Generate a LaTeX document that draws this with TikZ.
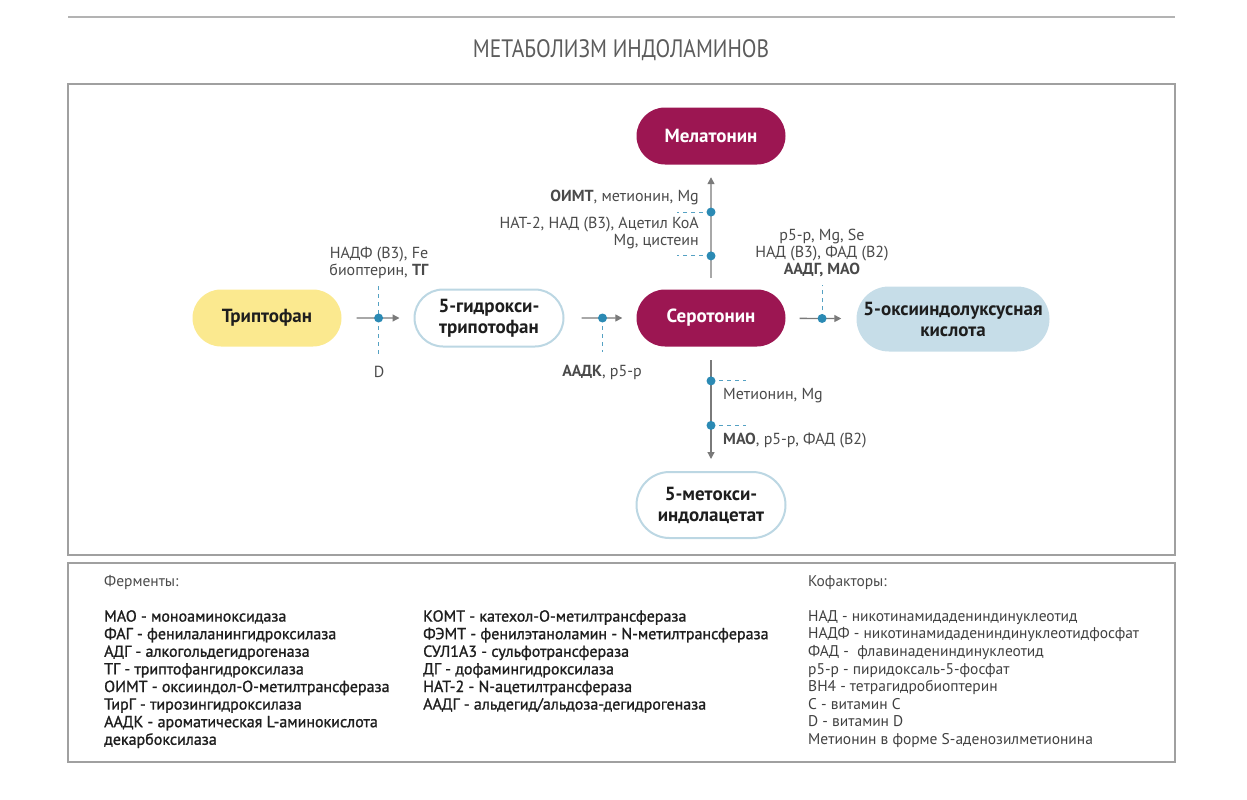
\documentclass[tikz,border=0pt]{standalone}
\usepackage{fontspec}
\setmainfont{PT Sans}
\newfontfamily\titlefont[FakeStretch=0.85]{PT Sans}
\newfontfamily\medfont[FakeBold=1.2]{PT Sans}
\usetikzlibrary{positioning,shapes.misc,arrows.meta}

\definecolor{trpyellow}{HTML}{FBE98F}
\definecolor{serwine}{HTML}{9C1652}
\definecolor{acidblue}{HTML}{C6DDE8}
\definecolor{pillrim}{HTML}{BCD7E3}
\definecolor{dotblue}{HTML}{2B8AB4}
\definecolor{flowgray}{HTML}{7A7A7A}
\definecolor{labelgray}{HTML}{4A4A4A}
\definecolor{framegray}{HTML}{A0A0A0}
\definecolor{inkdark}{HTML}{1E1E1E}

\begin{document}
\begin{tikzpicture}[
  x=1pt,y=-1pt,
  pill/.style={rounded rectangle,minimum width=153pt,minimum height=57pt,inner sep=2pt,align=center,
    font=\fontsize{19}{21}\selectfont\bfseries,text=inkdark},
  hollow/.style={pill,draw=pillrim,line width=2pt,fill=white},
  flow/.style={draw=flowgray,line width=1.3pt,-{Triangle[length=7pt,width=7pt]}},
  dot/.style={circle,fill=dotblue,inner sep=0pt,minimum size=9pt},
  cofline/.style={draw=dotblue!80,line width=1pt,dash pattern=on 4pt off 4pt},
  coftext/.style={font=\fontsize{16}{17}\selectfont,text=labelgray,inner sep=0pt,align=center},
  legend/.style={font=\fontsize{15.5}{17.6}\selectfont,align=left,anchor=north west,inner sep=0pt},
  frame/.style={draw=framegray,line width=1.2pt}
]
  \useasboundingbox (0,0) rectangle (1247,800);

  % title and frames
  \draw[draw=framegray!80,line width=1.5pt] (68,17) -- (1175,17);
  \node[font=\titlefont\fontsize{25.2}{26}\selectfont,text=labelgray!90] (title) at (621,50) {МЕТАБОЛИЗМ ИНДОЛАМИНОВ};
  \draw[frame] (68,84) rectangle (1175,555);
  \draw[frame] (68,563) rectangle (1175,762);

  % substances
  \node[pill,fill=trpyellow] (trp) at (267,318) {Триптофан};
  \node[hollow] (htp) at (489,318) {5-гидрокси-\\трипотофан};
  \node[pill,fill=serwine,text=white] (ser) at (711,318) {Серотонин};
  \node[pill,fill=serwine,text=white] (mel) at (711,136) {Мелатонин};
  \node[pill,fill=acidblue,minimum width=197pt,minimum height=65pt] (hiaa) at (953,319) {5-оксииндолуксусная\\кислота};
  \node[hollow,minimum height=66pt] (mia) at (711,505) {5-метокси-\\индолацетат};

  % reactions
  \draw[flow,shorten <=15pt,shorten >=14pt] (trp) -- coordinate[pos=0.514] (k1) (htp);
  \draw[flow,shorten <=17pt,shorten >=14pt] (htp) -- coordinate[pos=0.529] (k2) (ser);
  \draw[flow,shorten <=14pt,shorten >=15pt] (ser) -- coordinate[pos=0.515] (k3) (hiaa);
  \draw[flow,shorten <=11.5pt,shorten >=12.5pt] (ser) -- coordinate[pos=0.268] (k4) coordinate[pos=0.62] (k5) (mel);
  \draw[flow,shorten <=13.5pt,shorten >=12pt] (ser) -- coordinate[pos=0.275] (k6) coordinate[pos=0.633] (k7) (mia);

  \draw[cofline] ([yshift=32pt]k1) -- ([yshift=-36pt]k1);
  \draw[cofline] (k2) -- ([yshift=-34pt]k2);
  \draw[cofline] (k3) -- ([yshift=33pt]k3);
  \draw[cofline] (k4) -- ([xshift=-34pt]k4);
  \draw[cofline] (k5) -- ([xshift=-34pt]k5);
  \draw[cofline] (k6) -- ([xshift=35pt]k6);
  \draw[cofline] (k7) -- ([xshift=35pt]k7);
  \foreach \k in {k1,k2,k3,k4,k5,k6,k7}
    \node[dot] (\k dot) at (\k) {};

  % cofactors
  \node[coftext] (c1) at (379,263) {НАДФ (В3), Fe\\биоптерин, \textbf{ТГ}};
  \node[coftext] (c2) at (379,372) {D};
  \node[coftext] (c3) at (602,372) {\textbf{ААДК}, р5-р};
  \node[coftext,anchor=east] (c4) at (699,197) {\textbf{ОИМТ}, метионин, Mg};
  \node[coftext,anchor=east,align=right] (c5) at (699,233) {НАТ-2, НАД (В3), Ацетил КоА\\Mg, цистеин};
  \node[coftext] (c6) at (822,253) {р5-р, Mg, Se\\НАД (В3), ФАД (В2)\\\textbf{ААДГ, МАО}};
  \node[coftext,anchor=west] (c7) at (723,396) {Метионин, Mg};
  \node[coftext,anchor=west] (c8) at (723,440) {\textbf{МАО}, р5-р, ФАД (В2)};

  % legend
  \node[legend,text=labelgray] (enzhead) at (104,575) {Ферменты:};
  \node[legend,text=labelgray] (cofhead) at (808,575) {Кофакторы:};
  \node[legend,text=inkdark,font=\medfont\fontsize{16}{17.6}\selectfont] (enz1) at (104,610) {%
    МАО - моноаминоксидаза\\
    ФАГ - фенилаланингидроксилаза\\
    АДГ - алкогольдегидрогеназа\\
    ТГ - триптофангидроксилаза\\
    ОИМТ - оксииндол-О-метилтрансфераза\\
    ТирГ - тирозингидроксилаза\\
    ААДК - ароматическая L-аминокислота\\
    декарбоксилаза};
  \node[legend,text=inkdark,font=\medfont\fontsize{16}{17.6}\selectfont] (enz2) at (423,610) {%
    КОМТ - катехол-О-метилтрансфераза\\
    ФЭМТ - фенилэтаноламин - N-метилтрансфераза\\
    СУЛ1А3 - сульфотрансфераза\\
    ДГ - дофамингидроксилаза\\
    НАТ-2 - N-ацетилтрансфераза\\
    ААДГ - альдегид/альдоза-дегидрогеназа};
  \node[legend,text=inkdark!85] (cof) at (808,610) {%
    НАД - никотинамидадениндинуклеотид\\
    НАДФ - никотинамидадениндинуклеотидфосфат\\
    ФАД -\ \ флавинадениндинуклеотид\\
    р5-р - пиридоксаль-5-фосфат\\
    ВН4 - тетрагидробиоптерин\\
    С - витамин С\\
    D - витамин D\\
    Метионин в форме S-аденозилметионина};
\end{tikzpicture}
\end{document}
